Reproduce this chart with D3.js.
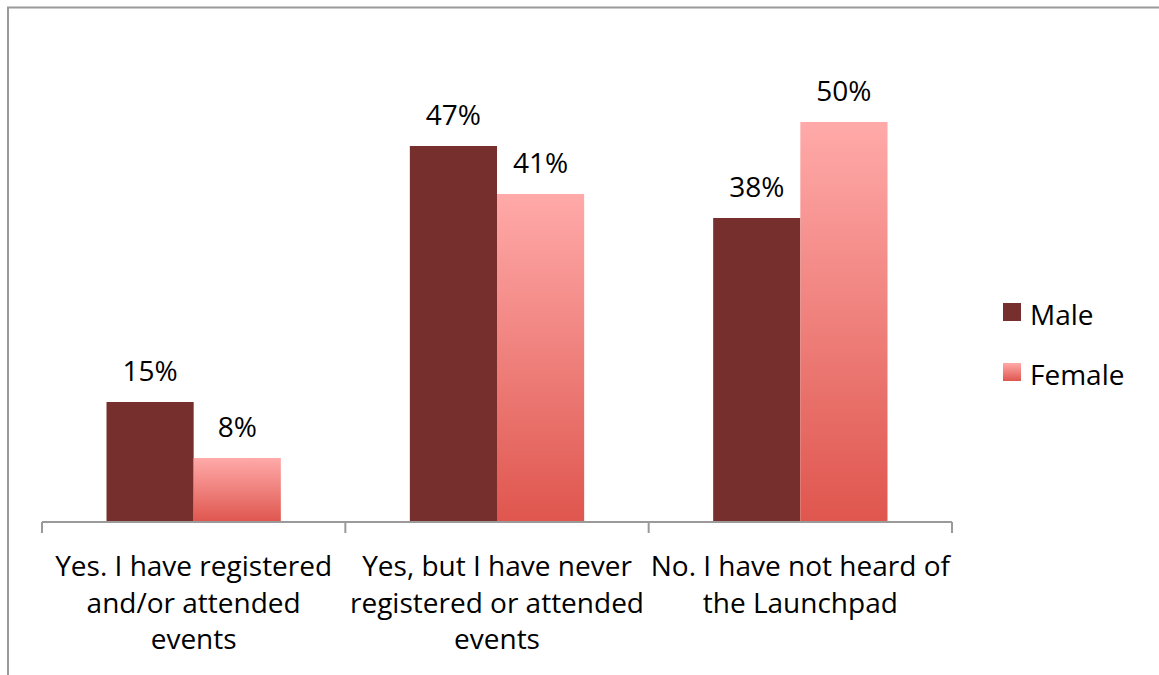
<!DOCTYPE html>
<html><head><meta charset="utf-8">
<script src="https://cdn.jsdelivr.net/npm/d3@7"></script>
<style>body{margin:0;background:#fff}svg{display:block}</style>
</head><body>
<svg id="c" width="1159" height="675"></svg>
<script>
const categories = [
  ["Yes. I have registered", "and/or attended", "events"],
  ["Yes, but I have never", "registered or attended", "events"],
  ["No. I have not heard of", "the Launchpad"]
];
const seriesNames = ["Male", "Female"];
const maleValues = [15, 47, 38];
const femaleValues = [8, 41, 50];

const svg = d3.select("#c");
const font = "'Open Sans', Lato, sans-serif";
const fs = 28;
const defs = svg.append("defs");
const g = defs.append("linearGradient").attr("id","fem").attr("x1",0).attr("y1",0).attr("x2",0).attr("y2",1);
g.append("stop").attr("offset","0%").attr("stop-color","#FFAAA9");
g.append("stop").attr("offset","100%").attr("stop-color","#DF564E");

// frame
svg.append("path").attr("d","M8,675 L8,7.5 L1159,7.5").attr("fill","none").attr("stroke","#9a9a9a").attr("stroke-width",2);

const x0 = d3.scaleBand().domain(d3.range(categories.length)).range([42, 952]).paddingInner(0).paddingOuter(0);
const x1 = d3.scaleBand().domain(seriesNames).range([0, x0.bandwidth()]).paddingInner(0).paddingOuter(0.74);
const y = d3.scaleLinear().domain([0, 50]).range([522, 122]);

const data = categories.map((c,i)=>({i, vals:[maleValues[i], femaleValues[i]]}));
const fills = ["#772F2E", "url(#fem)"];

const grp = svg.selectAll("g.grp").data(data).join("g").attr("class","grp")
  .attr("transform", d=>`translate(${x0(d.i)},0)`);
grp.selectAll("rect").data(d=>d.vals.map((v,k)=>({v,k}))).join("rect")
  .attr("x", d=>x1(seriesNames[d.k]))
  .attr("width", x1.bandwidth())
  .attr("y", d=>y(d.v)).attr("height", d=>y(0)-y(d.v))
  .attr("fill", d=>fills[d.k]);
grp.selectAll("text.val").data(d=>d.vals.map((v,k)=>({v,k}))).join("text").attr("class","val")
  .attr("x", d=>x1(seriesNames[d.k]) + x1.bandwidth()/2)
  .attr("y", d=>y(d.v) - 21)
  .attr("text-anchor","middle").attr("font-family",font).attr("font-size",fs).attr("fill","#000")
  .text(d=>d.v+"%");

// axis
const ax = svg.append("g").attr("stroke","#9a9a9a").attr("stroke-width",2).attr("fill","none");
ax.append("line").attr("x1",42).attr("x2",952).attr("y1",522).attr("y2",522);
const ticks = d3.range(categories.length+1).map(i=> i<categories.length ? x0(i) : x0(i-1)+x0.bandwidth());
ax.selectAll("line.t").data(ticks).join("line").attr("class","t")
  .attr("x1",d=>d).attr("x2",d=>d).attr("y1",522).attr("y2",533);

// category labels
svg.selectAll("text.cat").data(categories).join("text").attr("class","cat")
  .attr("font-family",font).attr("font-size",fs).attr("text-anchor","middle").attr("fill","#000")
  .each(function(lines,i){
    const t = d3.select(this);
    lines.forEach((l,j)=>t.append("tspan").attr("x", x0(i)+x0.bandwidth()/2).attr("y", 576 + j*36.5).text(l));
  });

// legend
const leg = svg.selectAll("g.leg").data(seriesNames).join("g").attr("class","leg")
  .attr("transform",(d,i)=>`translate(1003,${303+i*60})`);
leg.append("rect").attr("width",18).attr("height",18).attr("fill",(d,i)=>fills[i]);
leg.append("text").attr("x",27).attr("y",22).attr("font-family",font).attr("font-size",fs).attr("fill","#000").text(d=>d);
</script>
</body></html>
